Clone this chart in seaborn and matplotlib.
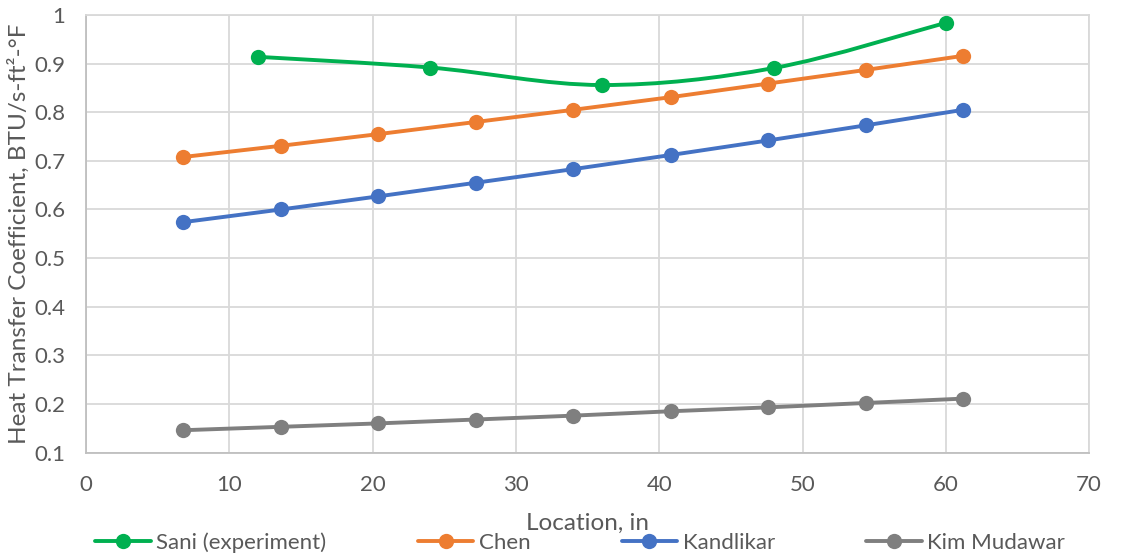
import numpy as np
import pandas as pd
import matplotlib
matplotlib.use("Agg")
import matplotlib.pyplot as plt
from matplotlib.path import Path
from matplotlib.patches import PathPatch
from matplotlib.lines import Line2D
import seaborn as sns

# data
sani_x = [12, 24, 36, 48, 60]
sani_y = [0.914, 0.892, 0.856, 0.891, 0.984]

loc_x = [6.8, 13.6, 20.4, 27.2, 34.0, 40.8, 47.6, 54.4, 61.2]
chen_y = [0.708, 0.731, 0.755, 0.780, 0.805, 0.831, 0.859, 0.887, 0.916]
kandlikar_y = [0.574, 0.600, 0.627, 0.655, 0.683, 0.712, 0.742, 0.773, 0.805]
kim_y = [0.146, 0.153, 0.160, 0.168, 0.176, 0.185, 0.193, 0.202, 0.211]

colors = {"Sani (experiment)": "#00B050", "Chen": "#ED7D31",
          "Kandlikar": "#4472C4", "Kim Mudawar": "#7F7F7F"}

sns.set_theme(style="white")
plt.rcParams['font.family'] = ['Lato', 'DejaVu Sans']
txt = "#595959"

fig, ax = plt.subplots(figsize=(11.31, 5.56), dpi=100)
fig.subplots_adjust(left=0.076, right=0.963, top=0.973, bottom=0.186)

lw = 2.8
ms = 11

# straight series
for name, ys in [("Chen", chen_y), ("Kandlikar", kandlikar_y), ("Kim Mudawar", kim_y)]:
    df = pd.DataFrame({"x": loc_x, "y": ys})
    sns.lineplot(data=df, x="x", y="y", ax=ax, color=colors[name], lw=lw,
                 marker="o", markersize=ms, markeredgewidth=0, zorder=3)

# smoothed series (Excel-style bezier through the points)
pts = np.column_stack([sani_x, sani_y])
verts = [tuple(pts[0])]
codes = [Path.MOVETO]
n = len(pts)
for i in range(n - 1):
    p0 = pts[max(i - 1, 0)]
    p1 = pts[i]
    p2 = pts[i + 1]
    p3 = pts[min(i + 2, n - 1)]
    c1 = p1 + (p2 - p0) / 6
    c2 = p2 - (p3 - p1) / 6
    verts += [tuple(c1), tuple(c2), tuple(p2)]
    codes += [Path.CURVE4] * 3
ax.add_patch(PathPatch(Path(verts, codes), fill=False, edgecolor=colors["Sani (experiment)"],
                       lw=lw, zorder=3, capstyle="round"))
sns.scatterplot(x=sani_x, y=sani_y, ax=ax, color=colors["Sani (experiment)"], s=ms ** 2,
                linewidth=0, zorder=4)

ax.set_xlim(0, 70)
ax.set_ylim(0.1, 1.0)
ax.set_xticks(np.arange(0, 71, 10))
ax.set_yticks(np.round(np.arange(0.1, 1.01, 0.1), 1))
ax.set_yticklabels(["0.1", "0.2", "0.3", "0.4", "0.5", "0.6", "0.7", "0.8", "0.9", "1"])
ax.grid(True, color="#D9D9D9", lw=1.3)
ax.set_axisbelow(True)
for s in ax.spines.values():
    s.set_color("#D9D9D9")
    s.set_linewidth(1.3)
ax.spines["left"].set_color("#BFBFBF")
ax.spines["bottom"].set_color("#BFBFBF")
ax.tick_params(axis="both", labelsize=16, colors=txt, length=0)
ax.tick_params(axis="x", pad=16)
ax.tick_params(axis="y", pad=15)

ax.set_xlabel("Location, in", fontsize=17.5, color=txt, labelpad=13)
ax.set_ylabel("Heat Transfer Coefficient, BTU/s-ft²-°F", fontsize=17.5, color=txt, labelpad=3)

handles = [Line2D([0], [0], color=c, lw=lw, marker="o", markersize=ms, markeredgewidth=0)
           for c in colors.values()]
fig.legend(handles, list(colors.keys()), loc="lower center", bbox_to_anchor=(0.513, -0.03),
           ncol=4, frameon=False, fontsize=16, labelcolor=txt, handlelength=2.5,
           handletextpad=0.25, columnspacing=4.1)

fig.savefig("out.png", dpi=100)
